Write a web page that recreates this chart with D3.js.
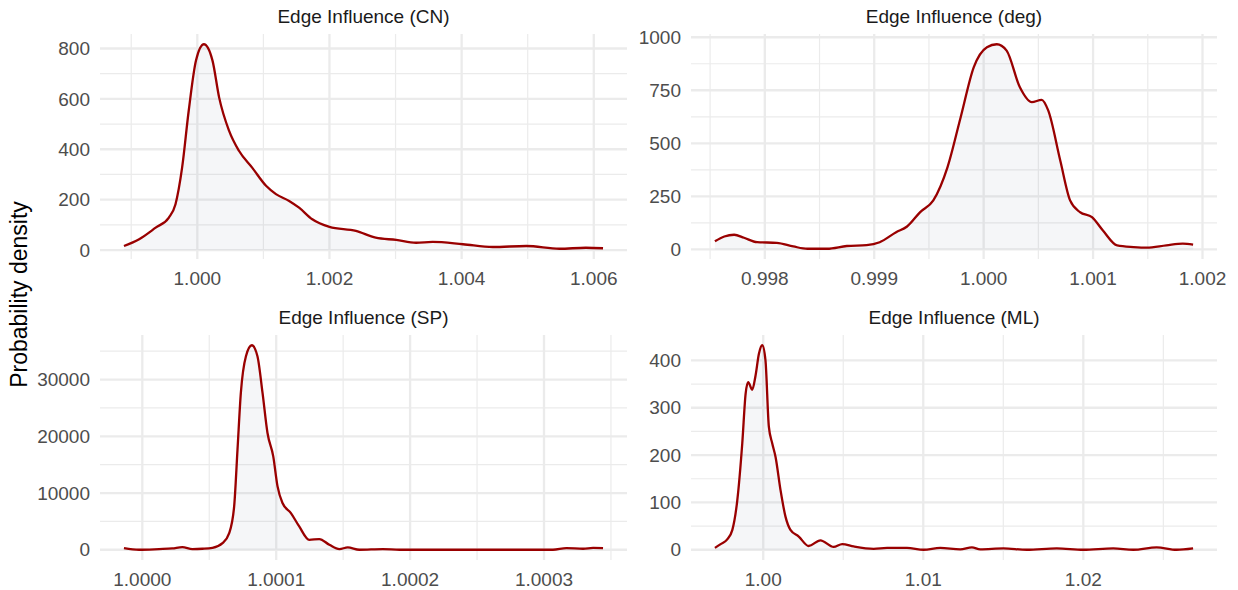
<!DOCTYPE html>
<html>
<head>
<meta charset="utf-8">
<script src="https://cdn.jsdelivr.net/npm/d3@7"></script>
<style>
  body { margin: 0; background: #fff; }
  svg { display: block; font-family: "Liberation Sans", Arial, sans-serif; }
</style>
</head>
<body>
<svg width="1238" height="590"></svg>
<script>
var svg = d3.select("svg");

// Edge Influence (CN)
var cnX = [0.99889, 0.99912, 0.99937, 0.99957, 0.99967, 0.99977, 0.99987, 0.99998, 1.00010, 1.00023,
           1.00033, 1.00048, 1.00063, 1.00083, 1.00104, 1.00119, 1.00139, 1.00154, 1.00174, 1.00200,
           1.00240, 1.00270, 1.00301, 1.00331, 1.00356, 1.00402, 1.00447, 1.00498, 1.00548, 1.00588, 1.00614];
var cnY = [16, 43, 89, 129, 182, 327, 553, 752, 817, 752,
           606, 474, 394, 327, 255, 222, 195, 168, 122, 92,
           76, 49, 40, 29, 32, 23, 12, 16, 5, 9, 7];
var cnXTicks = [1.000, 1.002, 1.004, 1.006];
var cnXMinor = [0.999, 1.001, 1.003, 1.005];
var cnYTicks = [0, 200, 400, 600, 800];
var cnYMinor = [100, 300, 500, 700];

// Edge Influence (deg)
var degX = [0.997544, 0.99763, 0.99772, 0.99781, 0.99793, 0.99811, 0.99826, 0.99839, 0.99857, 0.99875,
            0.99893, 0.99905, 0.99920, 0.99930, 0.99942, 0.99954, 0.99967, 0.99979, 0.99991, 1.00003,
            1.00012, 1.00021, 1.00033, 1.00044, 1.00053, 1.00059, 1.00070, 1.00079, 1.00088, 1.00099,
            1.00109, 1.00122, 1.00137, 1.00149, 1.00167, 1.00182, 1.001914];
var degY = [38, 61, 69, 55, 34, 31, 14, 3, 3, 16,
            20, 34, 81, 108, 176, 231, 388, 623, 859, 953,
            967, 937, 765, 694, 705, 655, 419, 231, 176, 152,
            89, 19, 11, 8, 19, 27, 22];
var degXTicks = [0.998, 0.999, 1.000, 1.001, 1.002];
var degXMinor = [0.9975, 0.9985, 0.9995, 1.0005, 1.0015];
var degYTicks = [0, 250, 500, 750, 1000];
var degYMinor = [125, 375, 625, 875];

// Edge Influence (SP)
var spX = [0.9999863, 0.9999975, 1.0000125, 1.0000224, 1.0000299, 1.0000374, 1.0000449, 1.0000524, 1.0000599, 1.0000649,
           1.0000686, 1.0000711, 1.0000736, 1.0000774, 1.0000818, 1.0000860, 1.0000898, 1.0000935, 1.0000978, 1.0001010,
           1.0001047, 1.0001110, 1.0001172, 1.0001247, 1.0001322, 1.0001397, 1.0001472, 1.0001534, 1.0001621, 1.0001796,
           1.0001921, 1.0002419, 1.0003067, 1.0003167, 1.0003292, 1.0003367, 1.0003441];
var spY = [300, 0, 120, 230, 470, 120, 180, 350, 1180, 2950,
           7640, 17650, 27650, 34110, 36050, 34110, 27650, 20590, 16460, 11170,
           8240, 6470, 4110, 1760, 1890, 880, 120, 410, 0, 120,
           0, 0, 0, 300, 180, 350, 300];
var spXTicks = [1.0000, 1.0001, 1.0002, 1.0003];
var spXMinor = [1.00005, 1.00015, 1.00025, 1.00035];
var spYTicks = [0, 10000, 20000, 30000];
var spYMinor = [5000, 15000, 25000, 35000];

// Edge Influence (ML)
var mlX = [0.99698, 0.99734, 0.99775, 0.99807, 0.99838, 0.99869, 0.99890, 0.99906, 0.99931, 0.99952,
           0.99973, 0.99994, 1.00014, 1.00035, 1.00056, 1.00077, 1.00108, 1.00139, 1.00170, 1.00222,
           1.00284, 1.00357, 1.00440, 1.00493, 1.00565, 1.00690, 1.00774, 1.00898, 1.01002, 1.01106,
           1.01231, 1.01304, 1.01356, 1.01501, 1.01647, 1.01834, 1.02000, 1.02187, 1.02312, 1.02458,
           1.02583, 1.02686];
var mlY = [4, 12, 22, 42, 105, 225, 330, 354, 338, 368,
           414, 432, 400, 260, 225, 196, 126, 70, 42, 28,
           8, 20, 6, 12, 7, 2, 4, 4, 0, 4,
           1, 5, 1, 3, 0, 3, 0, 3, 0, 5,
           0, 3];
var mlXTicks = [1.00, 1.01, 1.02];
var mlXMinor = [1.005, 1.015, 1.025];
var mlYTicks = [0, 100, 200, 300, 400];
var mlYMinor = [50, 150, 250, 350];

var panels = [
  {title: "Edge Influence (CN)", xs: cnX, ys: cnY, xt: cnXTicks, xm: cnXMinor, yt: cnYTicks, ym: cnYMinor, fmt: ".3f",
   left: 100, right: 627, top: 34, bottom: 259},
  {title: "Edge Influence (deg)", xs: degX, ys: degY, xt: degXTicks, xm: degXMinor, yt: degYTicks, ym: degYMinor, fmt: ".3f",
   left: 691, right: 1217, top: 34, bottom: 259},
  {title: "Edge Influence (SP)", xs: spX, ys: spY, xt: spXTicks, xm: spXMinor, yt: spYTicks, ym: spYMinor, fmt: ".4f",
   left: 100, right: 627, top: 335, bottom: 560},
  {title: "Edge Influence (ML)", xs: mlX, ys: mlY, xt: mlXTicks, xm: mlXMinor, yt: mlYTicks, ym: mlYMinor, fmt: ".2f",
   left: 691, right: 1217, top: 335, bottom: 560}
];

// ggplot style 5% expansion
var expand = function(ext) {
  var pad = (ext[1] - ext[0]) * 0.05;
  return [ext[0] - pad, ext[1] + pad];
};

panels.forEach(function(p) {
  var data = p.xs.map(function(v, i) { return {x: v, y: p.ys[i]}; });

  var x = d3.scaleLinear().domain(expand(d3.extent(p.xs))).range([p.left, p.right]);
  var y = d3.scaleLinear().domain(expand(d3.extent(p.ys))).range([p.bottom, p.top]);

  var g = svg.append("g");

  // minor grid
  g.selectAll(".xminor").data(p.xm).enter().append("line")
      .attr("x1", d => x(d)).attr("x2", d => x(d))
      .attr("y1", p.top).attr("y2", p.bottom)
      .attr("stroke", "#ebebeb").attr("stroke-width", 1.2);
  g.selectAll(".yminor").data(p.ym).enter().append("line")
      .attr("y1", d => y(d)).attr("y2", d => y(d))
      .attr("x1", p.left).attr("x2", p.right)
      .attr("stroke", "#ebebeb").attr("stroke-width", 1.2);

  // major grid
  g.selectAll(".xmajor").data(p.xt).enter().append("line")
      .attr("x1", d => x(d)).attr("x2", d => x(d))
      .attr("y1", p.top).attr("y2", p.bottom)
      .attr("stroke", "#ebebeb").attr("stroke-width", 2.3);
  g.selectAll(".ymajor").data(p.yt).enter().append("line")
      .attr("y1", d => y(d)).attr("y2", d => y(d))
      .attr("x1", p.left).attr("x2", p.right)
      .attr("stroke", "#ebebeb").attr("stroke-width", 2.3);

  var area = d3.area()
    .x(d => x(d.x))
    .y0(y(0))
    .y1(d => y(d.y))
    .curve(d3.curveMonotoneX);
  var line = d3.line()
    .x(d => x(d.x))
    .y(d => y(d.y))
    .curve(d3.curveMonotoneX);

  g.append("path")
      .attr("d", area(data))
      .attr("fill", "#5a6e8c")
      .attr("fill-opacity", 0.06);
  g.append("path")
      .attr("d", line(data))
      .attr("fill", "none")
      .attr("stroke", "#990000")
      .attr("stroke-width", 2.3);

  // tick labels
  var f = d3.format(p.fmt);
  g.selectAll(".xlab").data(p.xt).enter().append("text")
      .attr("x", d => x(d))
      .attr("y", p.bottom + 26)
      .attr("text-anchor", "middle")
      .attr("font-size", 19)
      .attr("fill", "#4d4d4d")
      .text(d => f(d));
  g.selectAll(".ylab").data(p.yt).enter().append("text")
      .attr("x", p.left - 10)
      .attr("y", d => y(d))
      .attr("dy", "0.35em")
      .attr("text-anchor", "end")
      .attr("font-size", 19)
      .attr("fill", "#4d4d4d")
      .text(d => d);

  // strip title
  g.append("text")
      .attr("x", (p.left + p.right) / 2)
      .attr("y", p.top - 11)
      .attr("text-anchor", "middle")
      .attr("font-size", 19)
      .attr("fill", "#1a1a1a")
      .text(p.title);
});

svg.append("text")
    .attr("transform", "translate(27,294.5) rotate(-90)")
    .attr("text-anchor", "middle")
    .attr("font-size", 23)
    .attr("fill", "#000")
    .text("Probability density");
</script>
</body>
</html>
